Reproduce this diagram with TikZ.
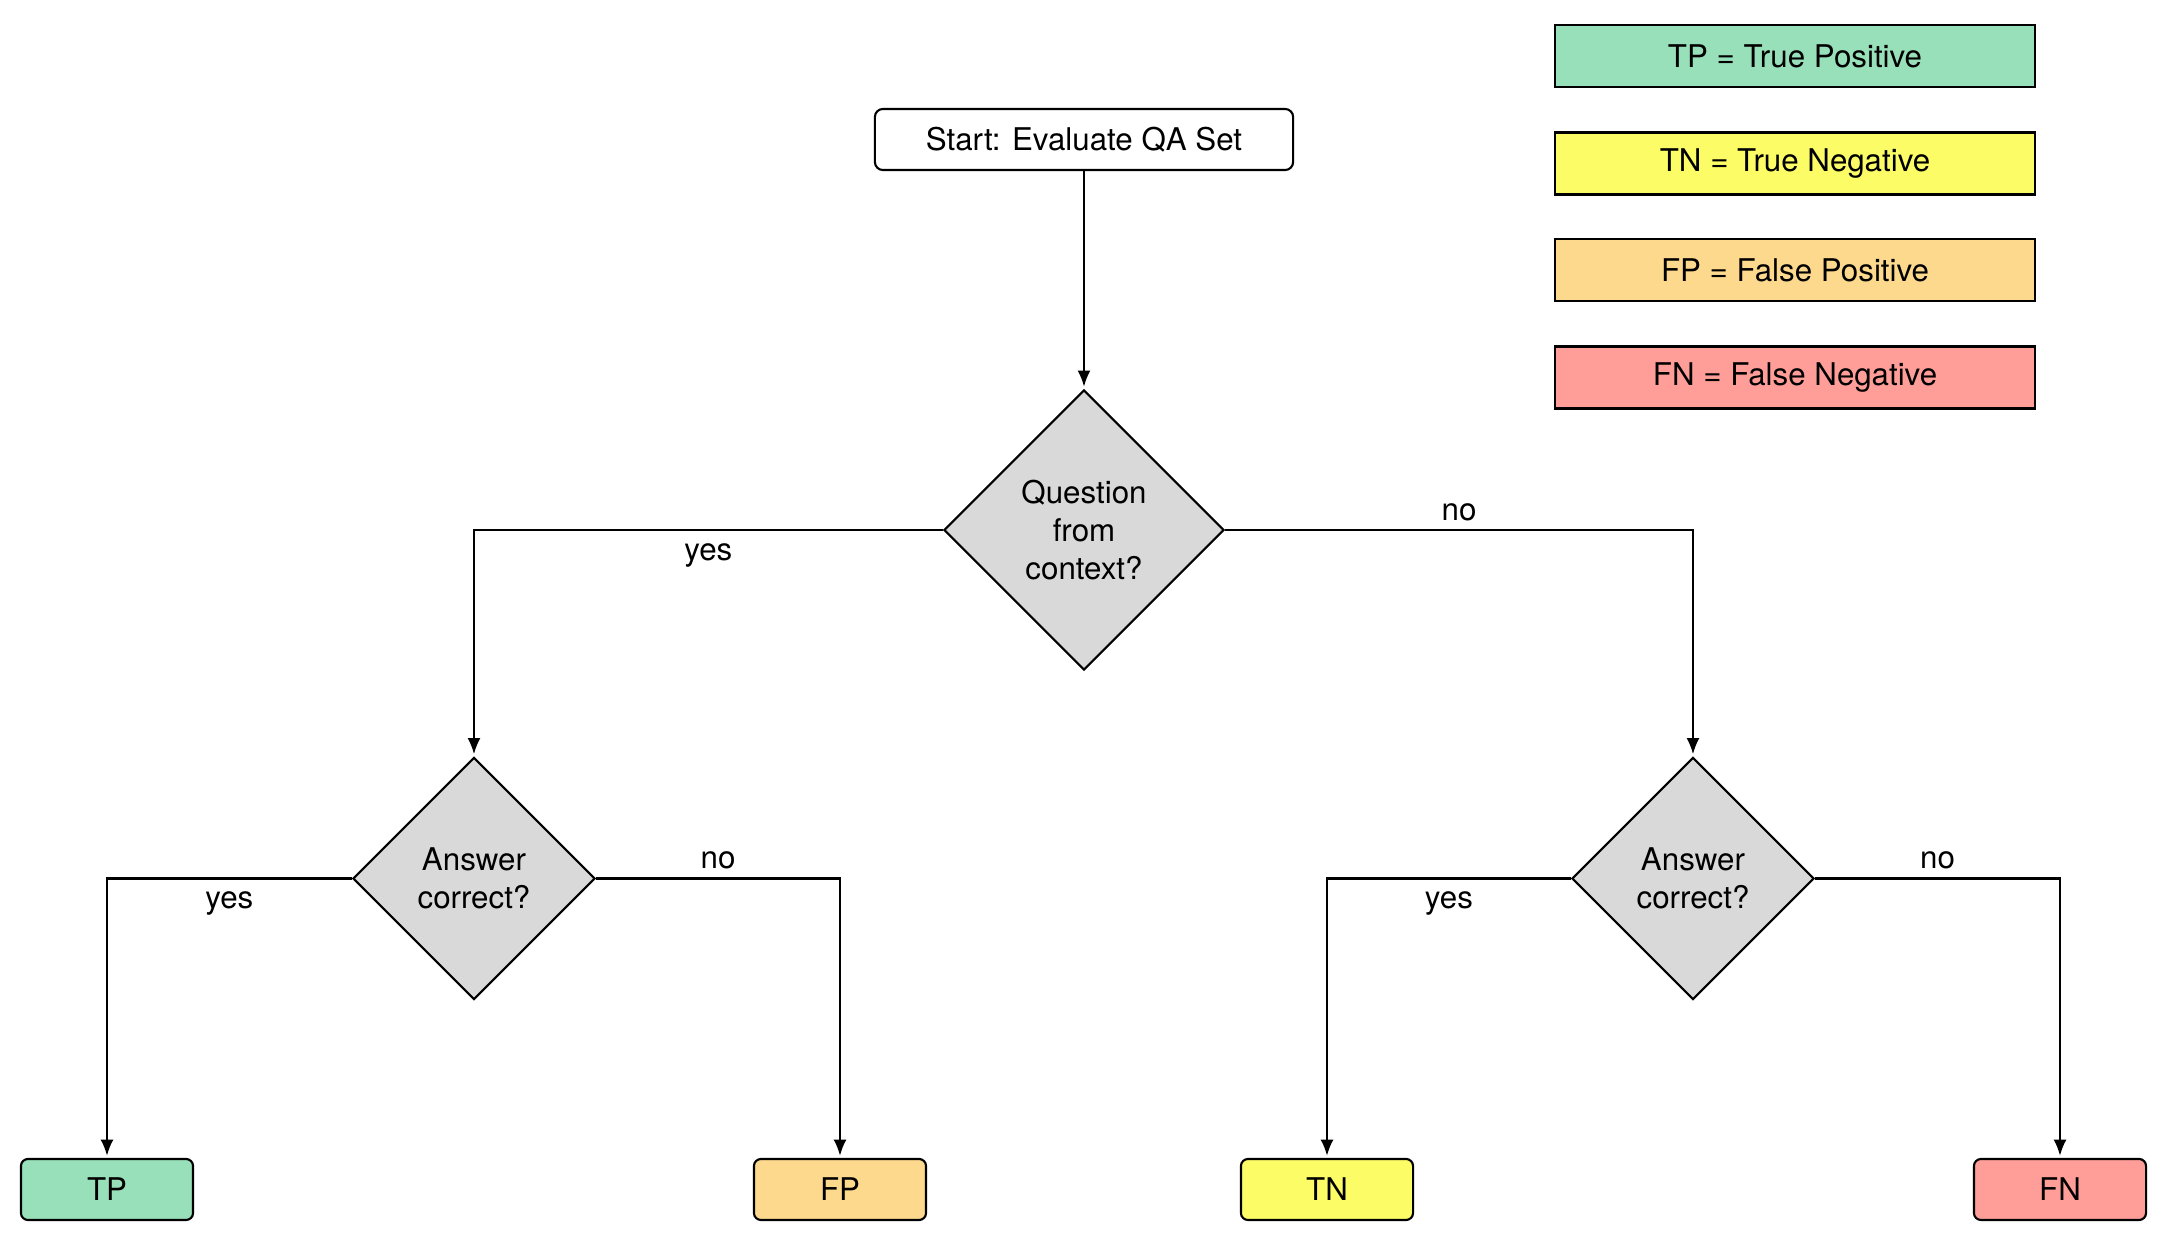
\documentclass[tikz,border=0pt]{standalone}
\usepackage{fontspec}
\setmainfont{TeX Gyre Heros}
\usetikzlibrary{shapes.geometric,arrows.meta}

\definecolor{tpgreen}{HTML}{98E0B9}
\definecolor{tnyellow}{HTML}{FCFC66}
\definecolor{fporange}{HTML}{FDD98E}
\definecolor{fnred}{HTML}{FF9E98}
\definecolor{decgray}{HTML}{D9D9D9}

\tikzset{
  base/.style={draw=black, line width=0.6pt, font=\fontsize{8.9}{10.8}\selectfont, text=black, inner sep=0pt},
  startbox/.style={base, rounded corners=0.08cm, minimum width=4.18cm, minimum height=0.61cm},
  decision/.style={base, diamond, aspect=1, fill=decgray, align=center},
  outcome/.style={base, rounded corners=0.07cm, minimum width=1.72cm, minimum height=0.61cm},
  legendbox/.style={base, minimum width=4.8cm, minimum height=0.62cm},
  arr/.style={line width=0.6pt, -{Latex[length=4.6pt,width=3.7pt]}, shorten >=0.6pt},
  lbl/.style={font=\fontsize{8.9}{10.8}\selectfont, inner sep=3.5pt},
  yeslbl/.style={lbl, pos=0.25, below},
  nolbl/.style={lbl, pos=0.25, above, yshift=-1.2pt}
}

\begin{document}
\begin{tikzpicture}[x=0.01cm, y=-0.01cm]
  \useasboundingbox (0,0) rectangle (2168,1246);

  % start node
  \node[startbox] (start) at (1084,139.5) {Start: Evaluate QA Set};

  % decisions
  \node[decision, minimum width=2.80cm, minimum height=2.80cm] (q) at (1084,530) {Question\\from\\context?};
  \node[decision, minimum width=2.42cm, minimum height=2.42cm] (a1) at (474,878.5) {Answer\\correct?};
  \node[decision, minimum width=2.42cm, minimum height=2.42cm] (a2) at (1693,878.5) {Answer\\correct?};

  % outcomes
  \node[outcome, fill=tpgreen] (tp) at (107,1189.5) {TP};
  \node[outcome, fill=fporange] (fp) at (840,1189.5) {FP};
  \node[outcome, fill=tnyellow] (tn) at (1327,1189.5) {TN};
  \node[outcome, fill=fnred] (fn) at (2060,1189.5) {FN};

  % legend
  \node[legendbox, fill=tpgreen] (ltp) at (1795,56) {TP = True Positive};
  \node[legendbox, fill=tnyellow] (ltn) at (1795,163.5) {TN = True Negative};
  \node[legendbox, fill=fporange] (lfp) at (1795,270) {FP = False Positive};
  \node[legendbox, fill=fnred] (lfn) at (1795,377.5) {FN = False Negative};

  % connectors
  \draw[arr] (start.south) -- (q.north);
  \draw[arr] (q.west) -| node[yeslbl] {yes} (a1.north);
  \draw[arr] (q.east) -| node[nolbl] {no} (a2.north);
  \draw[arr] (a1.west) -| node[yeslbl] {yes} (tp.north);
  \draw[arr] (a1.east) -| node[nolbl] {no} (fp.north);
  \draw[arr] (a2.west) -| node[yeslbl] {yes} (tn.north);
  \draw[arr] (a2.east) -| node[nolbl] {no} (fn.north);
\end{tikzpicture}
\end{document}
